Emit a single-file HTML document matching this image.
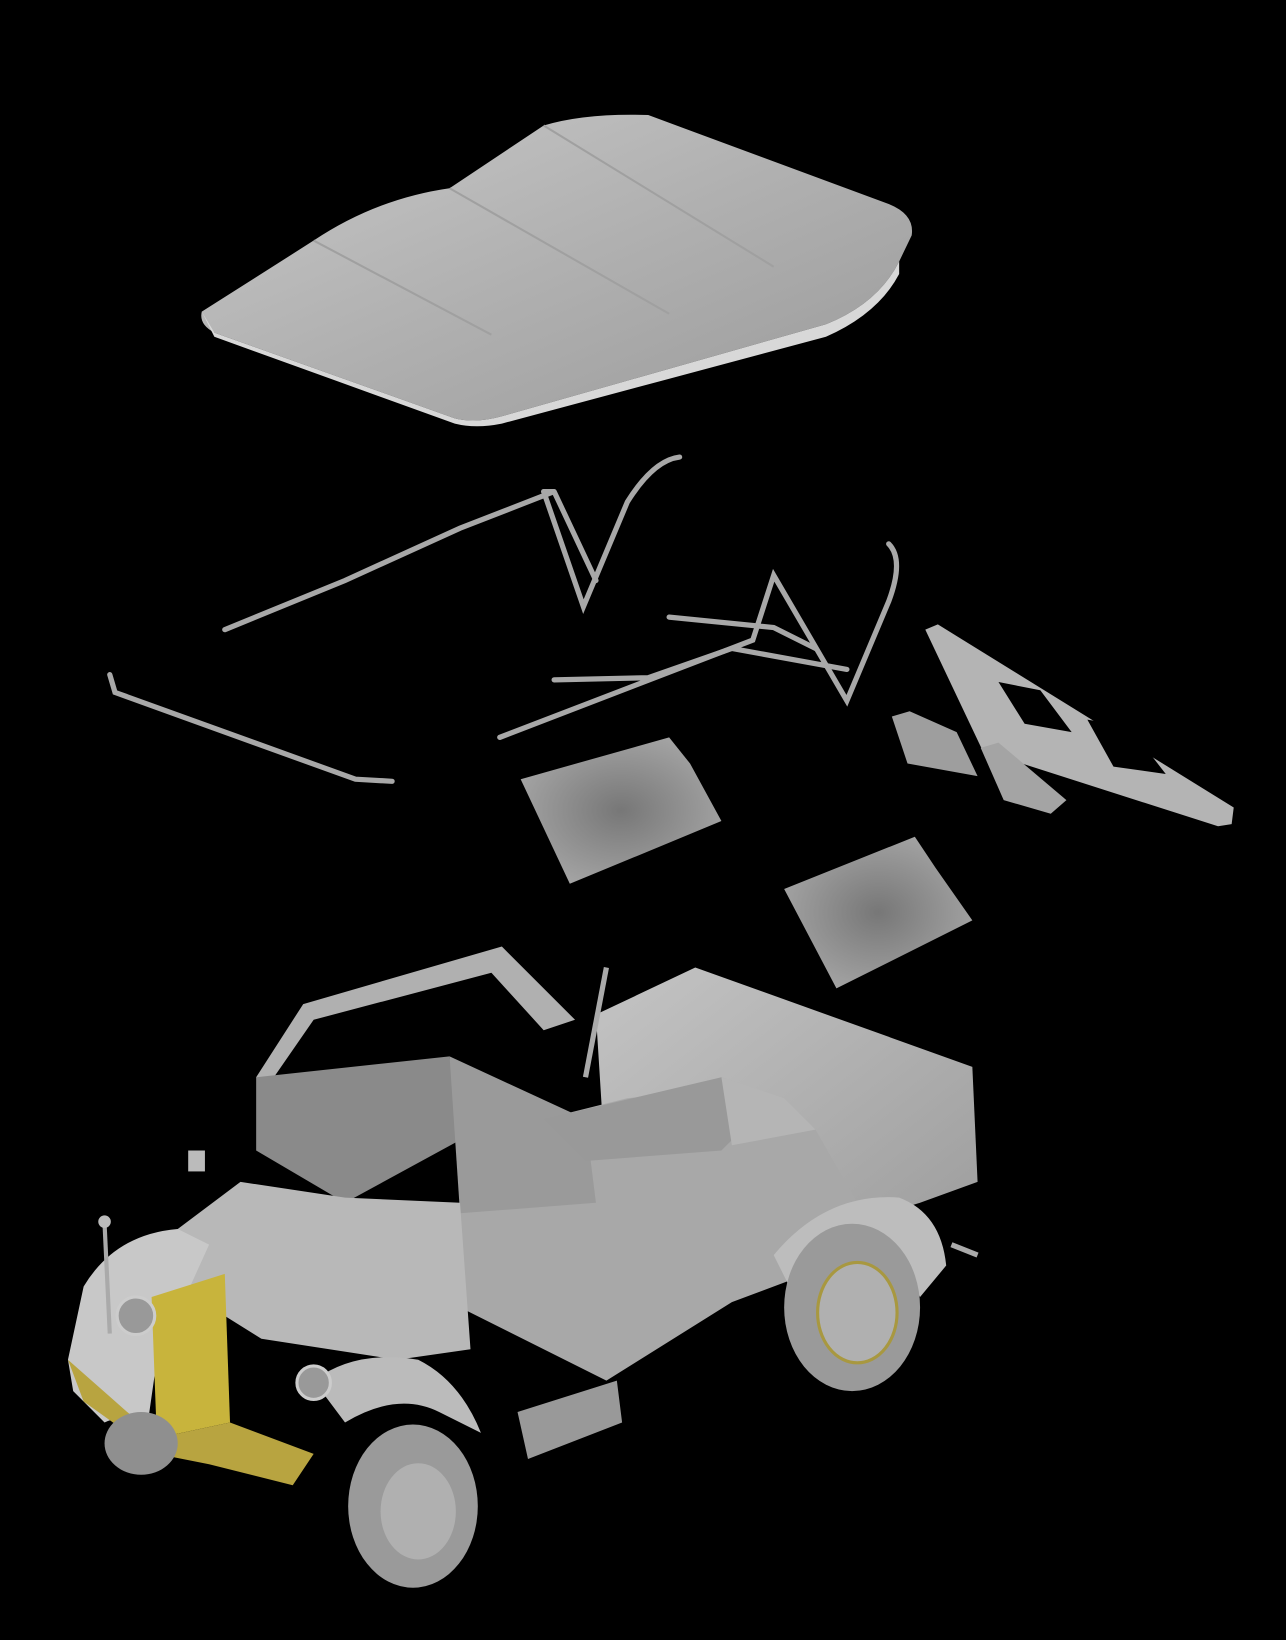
<!DOCTYPE html>
<html><head><meta charset="utf-8"><style>
html,body{margin:0;padding:0;background:#000;width:1286px;height:1640px;overflow:hidden}
svg{display:block}
</style></head><body>
<svg width="1286" height="1640" viewBox="0 0 1230 1568" preserveAspectRatio="none" xmlns="http://www.w3.org/2000/svg">
<defs>
<linearGradient id="roof" x1="0" y1="0" x2="1" y2="1">
<stop offset="0" stop-color="#c8c8c8"/><stop offset="0.5" stop-color="#b0b0b0"/><stop offset="1" stop-color="#9a9a9a"/></linearGradient>
<linearGradient id="body" x1="0" y1="0" x2="1" y2="1">
<stop offset="0" stop-color="#c4c4c4"/><stop offset="1" stop-color="#9c9c9c"/></linearGradient>
<radialGradient id="seat" cx="0.5" cy="0.5" r="0.6"><stop offset="0" stop-color="#777"/><stop offset="1" stop-color="#a8a8a8"/></radialGradient>
</defs>
<rect width="1230" height="1568" fill="#000"/>
<!-- roof -->
<path d="M193,298 L300,230 Q360,190 430,180 L520,120 Q560,108 620,110 L850,195 Q875,205 872,225 L860,250 Q840,290 790,310 L480,398 Q455,405 435,400 L205,318 Q190,310 193,298Z" fill="url(#roof)"/>
<path d="M193,298 L205,318 L435,400 Q455,405 480,398 L790,310 Q840,290 860,250 L860,262 Q840,300 790,322 L480,405 Q455,410 435,405 L205,322Z" fill="#d8d8d8"/>
<path d="M300,230 L470,320 M430,180 L640,300 M520,120 L740,255" stroke="#a0a0a0" stroke-width="2" fill="none"/>
<!-- frame bars -->
<g stroke="#a8a8a8" stroke-width="5" fill="none" stroke-linecap="round">
<path d="M215,602 L330,555 L440,505 L530,470 L520,470"/>
<path d="M520,470 L558,580 L600,480 Q625,440 650,437"/>
<path d="M530,470 L570,555"/>
<path d="M478,705 L720,612 L740,550 L810,670 L850,575 Q865,535 850,520"/>
<path d="M530,650 L620,648 L700,620 L810,640"/>
<path d="M640,590 L740,600 L780,620"/>
<path d="M105,645 L110,662 L340,745 L375,747"/>
</g>
<!-- side panel -->
<path d="M885,602 L897,597 L1180,772 L1178,788 L1165,790 L940,718Z" fill="#b4b4b4"/>
<path d="M955,652 L995,660 L1025,700 L980,692Z M1040,688 L1080,695 L1115,740 L1065,733Z" fill="#000"/>
<path d="M853,685 L870,680 L915,700 L935,742 L868,730Z" fill="#9e9e9e"/>
<path d="M938,715 L955,710 L1020,765 L1005,778 L960,765Z" fill="#a4a4a4"/>
<!-- seats -->
<path d="M498,745 L640,705 L660,730 L690,785 L545,845 Z" fill="url(#seat)"/>
<path d="M750,850 L875,800 L895,830 L930,880 L800,945 Z" fill="url(#seat)"/>
<!-- vehicle rear box -->
<path d="M570,970 L665,925 L930,1020 L935,1130 L880,1150 L700,1205 L580,1130Z" fill="url(#body)"/>
<!-- cab/body side -->
<path d="M440,1090 L600,1050 L700,1040 L780,1080 L820,1150 L820,1200 L700,1245 L580,1320 L440,1250Z" fill="#a8a8a8"/>
<!-- windshield frame -->
<path d="M245,1030 L290,960 L480,905 L550,975 L520,985 L470,930 L300,975 L255,1040Z" fill="#b0b0b0"/>
<path d="M245,1030 L430,1010 L440,1090 L330,1150 L245,1100Z" fill="#8a8a8a"/>
<path d="M430,1010 L560,1070 L570,1150 L440,1160Z" fill="#9a9a9a"/>
<path d="M520,1070 L690,1030 L740,1050 L690,1100 L560,1110Z" fill="#999"/>
<path d="M690,1030 L750,1050 L780,1080 L700,1095Z" fill="#b5b5b5"/>
<!-- hood -->
<path d="M170,1175 L230,1130 L330,1145 L440,1150 L450,1290 L380,1300 L250,1280 L170,1230Z" fill="#b8b8b8"/>
<!-- front fender -->
<path d="M65,1300 L80,1230 Q110,1180 170,1175 L200,1190 L150,1300 L140,1370 Q120,1350 100,1360 L70,1330Z" fill="#c8c8c8"/>
<path d="M300,1320 Q340,1290 400,1300 Q440,1320 460,1370 L420,1350 Q380,1330 330,1360Z" fill="#bbb"/>
<!-- grille -->
<path d="M145,1240 L215,1218 L220,1360 L150,1375Z" fill="#c8b43c"/>
<path d="M65,1300 L150,1375 L220,1360 L300,1390 L280,1420 L200,1400 L150,1390 L80,1340Z" fill="#b8a440"/>
<!-- headlights -->
<circle cx="130" cy="1258" r="18" fill="#999" stroke="#ccc" stroke-width="3"/>
<circle cx="300" cy="1322" r="16" fill="#999" stroke="#ccc" stroke-width="3"/>
<!-- rear fender -->
<path d="M740,1200 Q790,1140 860,1145 Q900,1160 905,1210 L880,1240 Q850,1190 800,1190 L760,1240Z" fill="#bdbdbd"/>
<!-- wheels -->
<ellipse cx="815" cy="1250" rx="65" ry="80" fill="#9a9a9a"/>
<ellipse cx="820" cy="1255" rx="38" ry="48" fill="#b0b0b0" stroke="#a89840" stroke-width="3"/>
<ellipse cx="395" cy="1440" rx="62" ry="78" fill="#9a9a9a"/>
<ellipse cx="400" cy="1445" rx="36" ry="46" fill="#b0b0b0"/>
<ellipse cx="135" cy="1380" rx="35" ry="30" fill="#8f8f8f"/>
<!-- running board -->
<path d="M495,1350 L590,1320 L595,1360 L505,1395Z" fill="#999"/>
<!-- antenna / mirror -->
<path d="M100,1170 L105,1275" stroke="#aaa" stroke-width="4"/>
<circle cx="100" cy="1168" r="6" fill="#bbb"/>
<rect x="180" y="1100" width="16" height="20" fill="#bbb"/>
<path d="M580,925 L560,1030" stroke="#aaa" stroke-width="5"/>
<path d="M910,1190 L935,1200" stroke="#aaa" stroke-width="5"/>
</svg>
</body></html>
